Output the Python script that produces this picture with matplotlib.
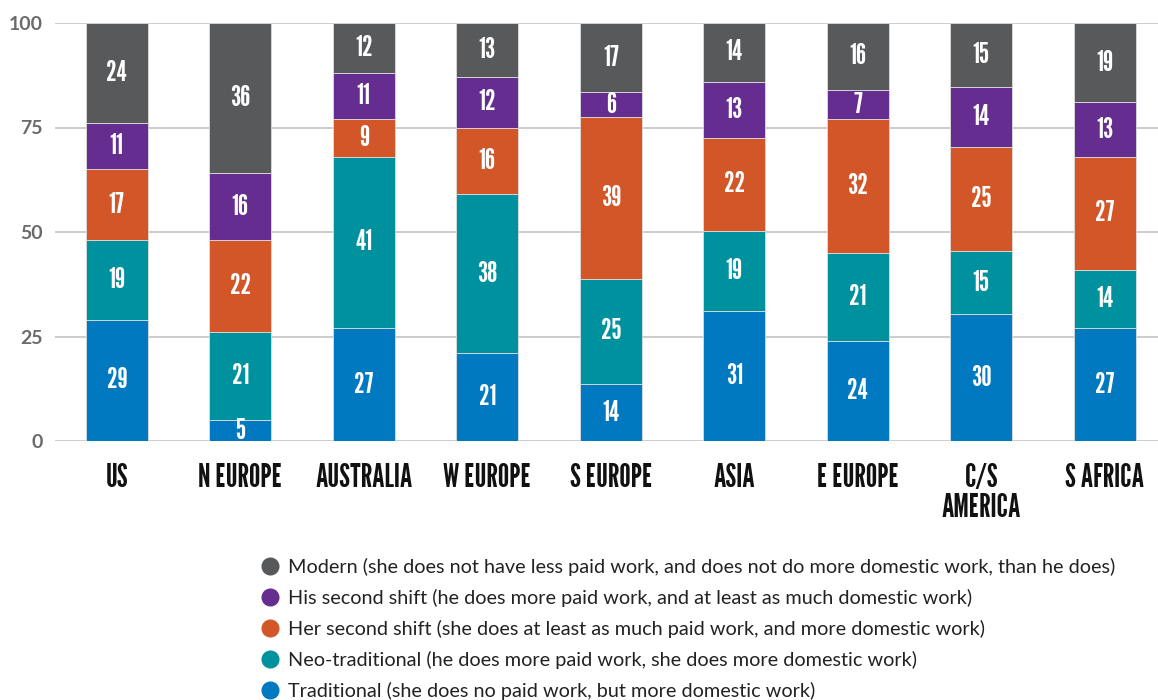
import matplotlib
matplotlib.use("Agg")
import matplotlib.pyplot as plt
from matplotlib.lines import Line2D
import numpy as np

regions = ["US", "N EUROPE", "AUSTRALIA", "W EUROPE", "S EUROPE", "ASIA",
           "E EUROPE", "C/S\nAMERICA", "S AFRICA"]
traditional = [29, 5, 27, 21, 13.6, 31.1, 24, 30.3, 27]
neo_traditional = [19, 21, 41, 38, 25.2, 19.1, 21, 15.2, 14]
her_second = [17, 22, 9, 16, 38.6, 22.4, 32, 24.8, 27]
his_second = [11, 16, 11, 12, 6.0, 13.4, 7, 14.3, 13]
modern = [24, 36, 12, 13, 16.6, 14.0, 16, 15.4, 19]

series_names = [
    "Traditional (she does no paid work, but more domestic work)",
    "Neo-traditional (he does more paid work, she does more domestic work)",
    "Her second shift (she does at least as much paid work, and more domestic work)",
    "His second shift (he does more paid work, and at least as much domestic work)",
    "Modern (she does not have less paid work, and does not do more domestic work, than he does)",
]
series = [traditional, neo_traditional, her_second, his_second, modern]
colors = ["#0079c1", "#00919e", "#d25627", "#652d90", "#58595b"]
yticks = [0, 25, 50, 75, 100]

narrow = ["League Gothic", "Oswald", "Barlow Condensed", "DejaVu Sans"]
body = ["Lato", "DejaVu Sans"]

fig = plt.figure(figsize=(11.58, 7.0), dpi=100)
ax = fig.add_axes([55/1158, 1-441/700, 1-55/1158, (441-23)/700])

x = np.arange(len(regions))
bottom = np.zeros(len(regions))
for vals, col in zip(series, colors):
    vals = np.array(vals, dtype=float)
    ax.bar(x, vals, width=0.5, bottom=bottom, color=col, edgecolor="#dddddd",
           linewidth=0.6, zorder=3)
    for xi, b, v in zip(x, bottom, vals):
        ax.text(xi, b + v/2, f"{int(round(v))}", ha="center", va="center",
                color="white", fontsize=21, family=narrow, zorder=4)
    bottom += vals

ax.set_xlim(-0.5, 8.43)
ax.set_ylim(0, 100)
ax.set_yticks(yticks)
ax.set_yticklabels([str(t) for t in yticks], family=body, fontsize=14,
                   fontweight="bold", color="#6b6b6b")
ax.yaxis.grid(True, color="#c8c8c8", linewidth=1.3, zorder=0)
ax.set_axisbelow(True)
ax.tick_params(axis="y", length=0, pad=9)
ax.tick_params(axis="x", length=0, pad=16)
ax.set_xticks(x)
ax.set_xticklabels(regions, family=narrow, fontsize=23,
                   color="#111111", linespacing=1.0, va="top")
for s in ax.spines.values():
    s.set_visible(False)

handles = [Line2D([], [], marker="o", linestyle="none", markersize=12,
                  markerfacecolor=c, markeredgecolor=c) for c in colors[::-1]]
fig.legend(handles, series_names[::-1], loc="upper left",
           bbox_to_anchor=(250/1158, 1-550/700), frameon=False,
           prop={"family": body, "size": 14.3}, labelcolor="#222222",
           handletextpad=0.3, labelspacing=0.65, borderaxespad=0,
           handlelength=1.2)

fig.savefig("out.png", dpi=100)
